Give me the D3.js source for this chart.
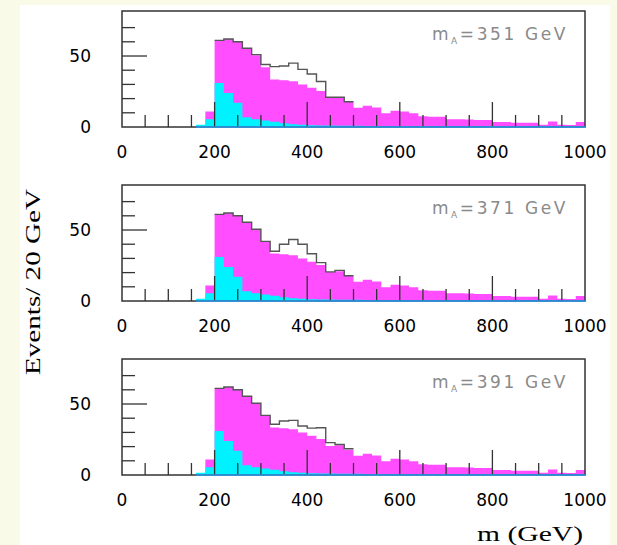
<!DOCTYPE html>
<html>
<head>
<meta charset="utf-8">
<script src="https://cdn.jsdelivr.net/npm/d3@7"></script>
<style>
  body { margin: 0; background: #fafae8; }
  svg { display: block; }
</style>
</head>
<body>
<div id="chart"></div>
<script>
// bins are 20 GeV wide, the arrays start at the 160 GeV bin
var binStart = 160;
var binWidth = 20;
var background = [0.5, 11, 61, 62, 60, 55.5, 50.5, 42, 33.5, 33,
  32.3, 30, 27.7, 25.3, 20.5, 21, 17.8, 13.5, 15, 13.8,
  9.6, 11.5, 11, 9.6, 7.5, 7.3, 7.3, 5.5, 5.4, 5.2,
  5, 5, 3.6, 3.5, 3, 3, 3, 1.5, 3.8, 1.5,
  1.4, 3.5];
var component = [1.5, 5.5, 31, 24, 17, 6.8, 5.4, 4.5, 3.7, 2.6,
  2, 1.6, 1.3, 1.1, 1, 0.9, 0.8, 0.8, 0.7, 0.7,
  0.6, 0.6, 0.6, 0.5, 0.5, 0.5, 0.5, 0.5, 0.5, 0.5,
  0.5, 0.5, 0.5, 0.5, 0.5, 0.5, 0.5, 0.5, 0.5, 0.5,
  0.5, 0.5];
// signal on top of background, bins 200..480 GeV
var signalStart = 200;
var signals = [
  [0, 0, 0, 0, 0.5, 2, 9, 10, 12.7, 10.6, 9.6, 6.7, 0.5, 0, 0],
  [0, 0, 0, 0, 0, 0, 1.5, 7, 11, 10, 5.6, 1.7, 0, 0.6, 0],
  [0, 0, 0, 0, 0, 0, 2.2, 5, 6.2, 4.5, 5.3, 8, 2.3, 0.5, 0.7]
];
var masses = ["351", "371", "391"];
var xTicks = [0, 200, 400, 600, 800, 1000];
var yTicks = [0, 50];

var width = 617, height = 545;
var svg = d3.select('#chart').append('svg')
  .attr('width', width).attr('height', height);

svg.append('rect').attr('x', 20).attr('y', 5)
  .attr('width', 590).attr('height', 540).attr('fill', '#fff');

var x = d3.scaleLinear().domain([0, 1000]).range([122, 585]);
var panelTops = [11, 185, 359];
var panelH = 116;
var yMax = 81.7;

function steps(values, start) {
  var pts = values.map(function(v, i) { return [start + i * binWidth, v]; });
  pts.push([start + values.length * binWidth, values[values.length - 1]]);
  return pts;
}

panelTops.forEach(function(top, p) {
  var y = d3.scaleLinear().domain([0, yMax]).range([top + panelH, top]);
  var g = svg.append('g');
  var area = d3.area().curve(d3.curveStepAfter)
    .x(function(d) { return x(d[0]); })
    .y0(y(0)).y1(function(d) { return y(d[1]); });

  g.append('path').attr('d', area(steps(background, binStart))).attr('fill', '#ff4dff');
  g.append('path').attr('d', area(steps(component, binStart))).attr('fill', '#00f2ff');

  var off = (signalStart - binStart) / binWidth;
  var total = signals[p].map(function(s, i) { return s + background[off + i]; });
  var line = d3.line().curve(d3.curveStepAfter)
    .x(function(d) { return x(d[0]); }).y(function(d) { return y(d[1]); });
  g.append('path').attr('d', line(steps(total, signalStart)))
    .attr('fill', 'none').attr('stroke', '#555').attr('stroke-width', 1.4);

  // x ticks pointing up, long every 200
  d3.range(50, 1000, 50).forEach(function(v) {
    var len = v % 200 === 0 ? 25 : 12;
    g.append('line').attr('x1', x(v)).attr('x2', x(v))
      .attr('y1', y(0)).attr('y2', y(0) - len)
      .attr('stroke', '#333').attr('stroke-width', 1.3);
  });
  // y ticks pointing right, long at 50
  d3.range(10, 80, 10).forEach(function(v) {
    var len = v % 50 === 0 ? 25 : 13;
    g.append('line').attr('x1', x(0)).attr('x2', x(0) + len)
      .attr('y1', y(v)).attr('y2', y(v))
      .attr('stroke', '#333').attr('stroke-width', 1.3);
  });

  g.append('rect').attr('x', x(0)).attr('y', top)
    .attr('width', x(1000) - x(0)).attr('height', panelH)
    .attr('fill', 'none').attr('stroke', '#333').attr('stroke-width', 1.5);

  g.append('line').attr('x1', x(binStart)).attr('x2', x(1000))
    .attr('y1', y(0)).attr('y2', y(0))
    .attr('stroke', '#2a9df4').attr('stroke-width', 1.6);

  g.selectAll('.xl').data(xTicks).enter().append('text')
    .attr('x', function(d) { return x(d); }).attr('y', y(0) + 31)
    .attr('text-anchor', 'middle')
    .style('font-family', 'DejaVu Sans').style('font-size', '17px')
    .text(function(d) { return d; });
  g.selectAll('.yl').data(yTicks).enter().append('text')
    .attr('x', 91).attr('y', function(d) { return y(d) + 6; })
    .attr('text-anchor', 'end')
    .style('font-family', 'DejaVu Sans').style('font-size', '17px')
    .text(function(d) { return d; });

  var t = g.append('text').attr('x', 568).attr('y', top + 29)
    .attr('text-anchor', 'end').attr('fill', '#8a8a8a')
    .style('font-family', 'DejaVu Sans').style('font-size', '17px')
    .style('letter-spacing', '2.6px');
  t.append('tspan').text('m');
  t.append('tspan').attr('dy', 4).style('font-size', '9px').text('A');
  t.append('tspan').attr('dy', -4).text('=' + masses[p] + ' GeV');
});

svg.append('text')
  .attr('transform', 'translate(40,282) rotate(-90)')
  .attr('text-anchor', 'middle')
  .attr('textLength', 186).attr('lengthAdjust', 'spacingAndGlyphs')
  .style('font-family', 'Liberation Serif').style('font-size', '21px')
  .text('Events/ 20 GeV');

svg.append('text').attr('x', 583).attr('y', 541)
  .attr('text-anchor', 'end')
  .attr('textLength', 106).attr('lengthAdjust', 'spacingAndGlyphs')
  .style('font-family', 'Liberation Serif').style('font-size', '21px')
  .text('m (GeV)');
</script>
</body>
</html>
